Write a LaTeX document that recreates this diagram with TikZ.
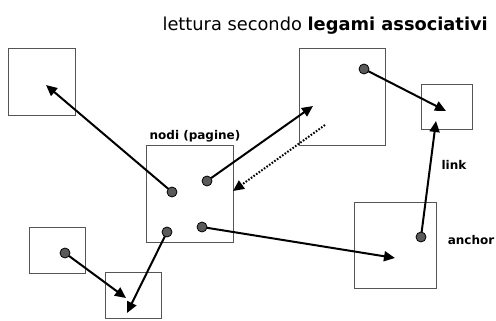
\documentclass[tikz,border=0pt]{standalone}
\usepackage{fontspec}
\setmainfont{DejaVu Sans}
\usetikzlibrary{arrows.meta}
\definecolor{boxgray}{HTML}{555555}
\definecolor{dotgray}{HTML}{5A5A5A}
\tikzset{
  page/.style={draw=boxgray, line width=1pt, inner sep=0pt, outer sep=0pt, fill=none},
  anc/.style={circle, draw=black, line width=0.8pt, fill=dotgray, minimum size=10pt, inner sep=0pt, outer sep=0pt},
  lnk/.style={line width=2pt, -{Triangle[length=11pt,width=10pt]}},
  back/.style={line width=2pt, dash pattern=on 1.6pt off 1.6pt, -{Triangle[length=11pt,width=10pt]}},
  lbl/.style={font=\bfseries\fontsize{12}{14}\selectfont, inner sep=0pt}
}
\begin{document}
\begin{tikzpicture}[x=1pt,y=-1pt]
\useasboundingbox (0,0) rectangle (496,321);
% title
\node[anchor=base east, inner sep=0pt, font=\fontsize{17.8}{20}\selectfont] (title) at (488,31) {lettura secondo \textbf{legami associativi}};
% pages
\node[page, minimum width=67pt, minimum height=67pt] (pA) at (41.5,82.5) {};
\node[page, minimum width=87pt, minimum height=96pt] (pC) at (189.5,194) {};
\node[page, minimum width=86pt, minimum height=97pt] (pR) at (342,97.5) {};
\node[page, minimum width=51pt, minimum height=45pt] (pS) at (446.5,107.5) {};
\node[page, minimum width=82pt, minimum height=86pt] (pN) at (395,245) {};
\node[page, minimum width=56pt, minimum height=46pt] (pL) at (57,250) {};
\node[page, minimum width=56pt, minimum height=46pt] (pB) at (133,295) {};
% labels
\node[lbl] (lnodi) at (195,136) {nodi (pagine)};
\node[lbl] (llink) at (454,165) {link};
\node[lbl] (lanch) at (471,240) {anchor};
% anchors
\node[anc] (a1) at (172,192) {};
\node[anc] (a2) at (207,181) {};
\node[anc] (a3) at (167,232) {};
\node[anc] (a4) at (202,227) {};
\node[anc] (a5) at (364,69) {};
\node[anc] (a6) at (421,237) {};
\node[anc] (a7) at (65,253) {};
% arrow ends
\coordinate (tA) at (46,85);
\coordinate (tR) at (313,106);
\coordinate (tS1) at (446,111);
\coordinate (tS2) at (436,121);
\coordinate (tN) at (395,258);
\coordinate (tB1) at (127,313);
\coordinate (tB2) at (126,298);
\coordinate (dS) at (325,125);
\coordinate (dT) at (233,191);
% connectors
\draw[lnk] (a1) -- (tA);
\draw[lnk] (a2) -- (tR);
\draw[lnk] (a5) -- (tS1);
\draw[lnk] (a6) -- (tS2);
\draw[lnk] (a4) -- (tN);
\draw[lnk] (a3) -- (tB1);
\draw[lnk] (a7) -- (tB2);
\draw[back] (dS) -- (dT);
\end{tikzpicture}
\end{document}
